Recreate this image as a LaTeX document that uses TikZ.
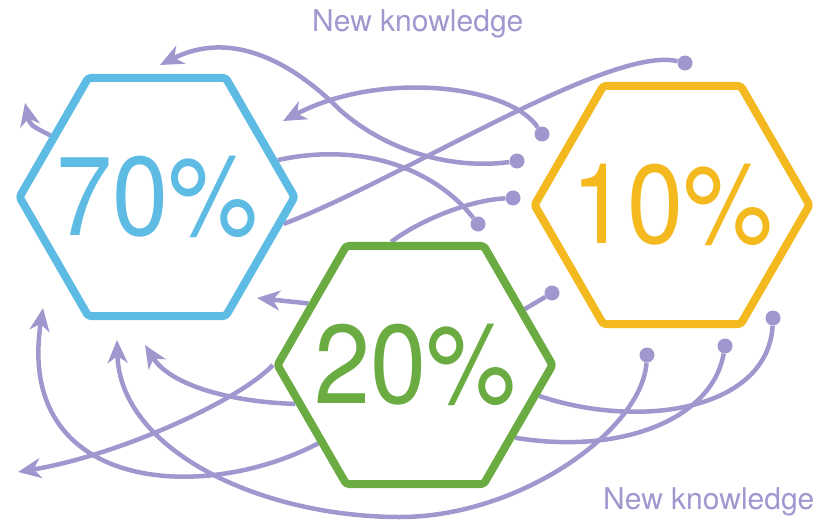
\documentclass[tikz,border=0pt]{standalone}
\usepackage{fontspec}
\setmainfont{TeX Gyre Heros}
\newfontfamily\pctfont{TeX Gyre Heros}[FakeStretch=0.9]
\usetikzlibrary{shapes.geometric,arrows.meta,backgrounds}
\definecolor{kblue}{RGB}{93,187,228}
\definecolor{kyellow}{RGB}{244,185,30}
\definecolor{kgreen}{RGB}{106,171,66}
\definecolor{kpurple}{RGB}{158,152,207}
\begin{document}
\begin{tikzpicture}[x=1pt,y=-1pt,
  hexbox/.style={regular polygon,regular polygon sides=6,minimum size=275pt,inner sep=0pt,
    line width=8pt,line join=round,rounded corners=3pt,fill=white},
  pct/.style={font=\pctfont\fontsize{112}{120}\selectfont,inner sep=0pt},
  dot/.style={circle,fill=kpurple,inner sep=0pt,minimum size=15pt},
  flow/.style={kpurple,line width=4.5pt},
  arr/.style={-{Stealth[length=23pt,width=20pt,inset=7pt]}},
  lbl/.style={kpurple,font=\fontsize{30}{36}\selectfont,anchor=base west,inner sep=0pt}]
\useasboundingbox (0,0) rectangle (837,527);
% hexagons
\node[hexbox,draw=kblue] (h70) at (157,197) {};
\node[hexbox,draw=kyellow] (h10) at (672,205) {};
\node[hexbox,draw=kgreen] (h20) at (415,365) {};
\node[pct,text=kblue] (p70) at (h70) {70\%};
\node[pct,text=kyellow] (p10) at (h10) {10\%};
\node[pct,text=kgreen] (p20) at (h20) {20\%};
\node[lbl] (nk1) at (312,32) {New knowledge};
\node[lbl] (nk2) at (603,509) {New knowledge};
% dots
\node[dot] (d1) at (685,63) {};
\node[dot] (d2) at (542,134) {};
\node[dot] (d3) at (517,161) {};
\node[dot] (d4) at (513,198) {};
\node[dot] (d5) at (478,224) {};
\node[dot] (d6) at (552,293) {};
\node[dot] (d7) at (647,355) {};
\node[dot] (d8) at (725,346) {};
\node[dot] (d9) at (773,318) {};
% arrow tips
\coordinate (t1) at (160,65);
\coordinate (t2) at (283,121);
\coordinate (t3) at (25,103);
\coordinate (t4) at (257,298);
\coordinate (t5) at (43,308);
\coordinate (t6) at (117,340);
\coordinate (t7) at (145,345);
\coordinate (t8) at (18,472);
\begin{pgfonlayer}{background}
% into the hexagons
\draw[flow] (d1) .. controls (610,45) and (400,180) .. (h70.348);
\draw[flow,arr] (d2) .. controls (510,85) and (380,70) .. (t2);
\draw[flow,arr] (d3) .. controls (450,170) and (385,150) .. (340,110) .. controls (290,60) and (230,30) .. (t1);
\draw[flow] (d5) .. controls (440,175) and (370,140) .. (h70.17);
\draw[flow] (d4) .. controls (470,200) and (420,220) .. (h20.101);
\draw[flow] (d6) -- (h20.27);
\draw[flow,arr] (d7) .. controls (642,430) and (520,517) .. (400,517) .. controls (260,517) and (120,450) .. (t6);
\draw[flow] (d9) .. controls (768,410) and (640,430) .. (h20.346);
\draw[flow] (d8) .. controls (712,420) and (620,455) .. (h20.324);
% out of the hexagons
\draw[flow,arr] (h70.150) .. controls (30,125) .. (t3);
\draw[flow,arr] (h20.150) .. controls (285,301) .. (t4);
\draw[flow,arr] (h20.219) .. controls (200,505) and (15,490) .. (t5);
\draw[flow,arr] (h20.198) .. controls (230,402) and (170,385) .. (t7);
\draw[flow,arr] (h20.180) .. controls (240,400) and (120,455) .. (t8);
\end{pgfonlayer}
\end{tikzpicture}
\end{document}
